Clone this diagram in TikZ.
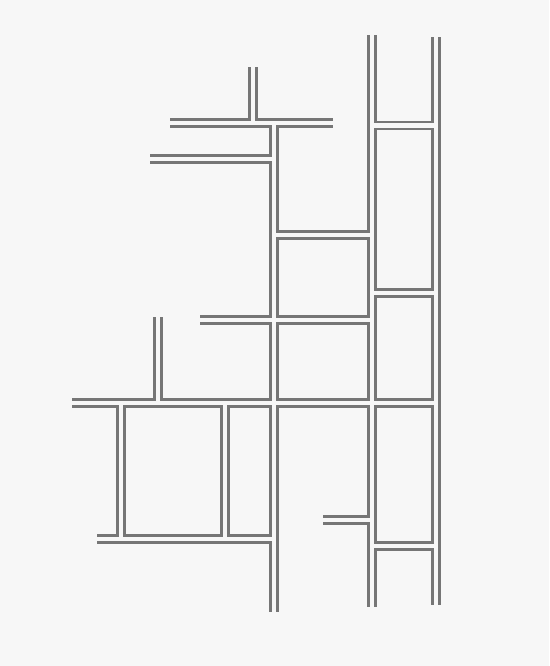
\documentclass[tikz,border=0pt]{standalone}
\definecolor{roadgray}{RGB}{118,118,118}
\definecolor{paper}{RGB}{247,247,247}
\tikzset{
  road edge/.style={draw=roadgray, line width=8.2pt, line cap=butt},
  road fill/.style={draw=paper, line width=3.6pt, line cap=butt},
}
% centre lines of the roads, in pixels of the sketch
\newcommand\roadlist{%
  372/35/372/607, 436/37/436/605, 274/123/274/612,
  253/67/253/123, 170/123/333/123, 150/159/274/159,
  274/235/372/235, 372/125.5/436/125.5, 372/293/436/293,
  200/320/372/320, 72/403/436/403, 158/317/158/403,
  121/403/121/539, 225/403/225/539, 97/539/274/539,
  323/520/372/520, 372/546/436/546}
\begin{document}
\begin{tikzpicture}[x=0.03cm,y=-0.03cm]
    \fill[paper] (0,0) rectangle (549,666);
    % outer edges
    \foreach \xa/\ya/\xb/\yb in \roadlist{%
      \draw[road edge] (\xa,\ya) -- (\xb,\yb);}
    % hollow inside
    \foreach \xa/\ya/\xb/\yb in \roadlist{%
      \draw[road fill] (\xa,\ya) -- (\xb,\yb);}
  \end{tikzpicture}
\end{document}
